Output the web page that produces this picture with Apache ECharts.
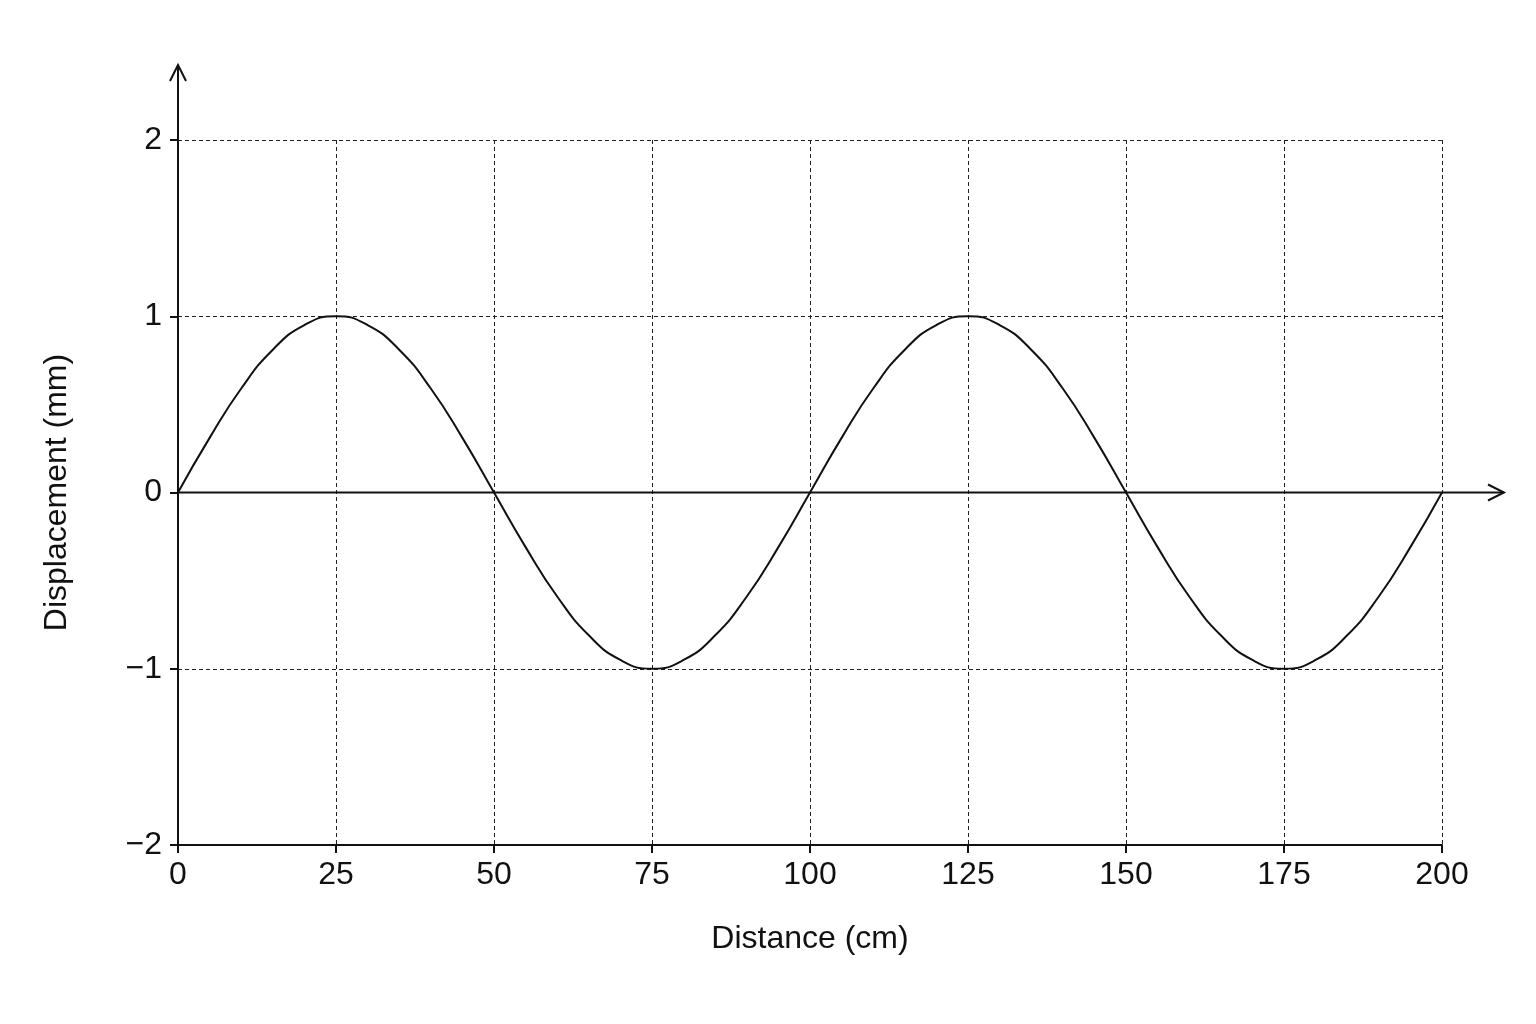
<!DOCTYPE html>
<html><head><meta charset="utf-8">
<script src="https://cdn.jsdelivr.net/npm/echarts@6/dist/echarts.min.js"></script>
<style>html,body{margin:0;background:#fff}#c{width:1536px;height:1024px}</style></head>
<body><div id="c"></div>
<script>
const distance = [0,5,10,15,20,25,30,35,40,45,50,55,60,65,70,75,80,85,90,95,100,105,110,115,120,125,130,135,140,145,150,155,160,165,170,175,180,185,190,195,200];
const displacement = [0,0.31,0.59,0.81,0.95,1,0.95,0.81,0.59,0.31,0,-0.31,-0.59,-0.81,-0.95,-1,-0.95,-0.81,-0.59,-0.31,0,0.31,0.59,0.81,0.95,1,0.95,0.81,0.59,0.31,0,-0.31,-0.59,-0.81,-0.95,-1,-0.95,-0.81,-0.59,-0.31,0];
const xTicks = [0,25,50,75,100,125,150,175,200];
const yTicks = [-2,-1,0,1,2];
const font = 'Liberation Sans, Arial, sans-serif';
const chart = echarts.init(document.getElementById('c'));
const dash = {lineStyle:{color:'#222',type:[4,3],width:1}};
chart.setOption({
  animation:false,
  grid:{left:178,right:94,top:140,bottom:179},
  xAxis:{type:'value',min:0,max:200,interval:25,name:'Distance (cm)',nameLocation:'middle',nameGap:78,
    nameTextStyle:{fontSize:32,color:'#111',fontFamily:font},
    axisLine:{onZero:false,lineStyle:{color:'#111',width:2}},axisTick:{length:8,lineStyle:{color:'#111',width:2}},
    axisLabel:{fontSize:32,color:'#111',fontFamily:font,margin:14},
    splitLine:{show:true,...dash}},
  yAxis:{type:'value',min:-2,max:2,interval:1,name:'Displacement (mm)',nameLocation:'middle',nameGap:105,
    nameTextStyle:{fontSize:32,color:'#111',fontFamily:font},
    axisLine:{lineStyle:{color:'#111',width:2}},axisTick:{length:8,lineStyle:{color:'#111',width:2}},
    axisLabel:{fontSize:32,color:'#111',fontFamily:font,margin:16,formatter:v=>v<0?'\u2212'+Math.abs(v):String(v)},
    splitLine:{show:true,...dash}},
  series:[{type:'line',data:distance.map((d,i)=>[d,displacement[i]]),smooth:true,symbol:'none',
    lineStyle:{color:'#111',width:2}}]
});
const o = chart.convertToPixel({gridIndex:0},[0,0]);
const tr = chart.convertToPixel({gridIndex:0},[200,2]);
const xEnd = tr[0]+62, yTop = tr[1]-75;
chart.setOption({graphic:[
  {type:'line',shape:{x1:o[0],y1:o[1],x2:xEnd,y2:o[1]},style:{stroke:'#111',lineWidth:2}},
  {type:'polyline',shape:{points:[[xEnd-16,o[1]-8],[xEnd,o[1]],[xEnd-16,o[1]+8]]},style:{stroke:'#111',lineWidth:2,fill:null}},
  {type:'line',shape:{x1:o[0],y1:tr[1],x2:o[0],y2:yTop},style:{stroke:'#111',lineWidth:2}},
  {type:'polyline',shape:{points:[[o[0]-8,yTop+16],[o[0],yTop],[o[0]+8,yTop+16]]},style:{stroke:'#111',lineWidth:2,fill:null}}
]});
</script></body></html>
